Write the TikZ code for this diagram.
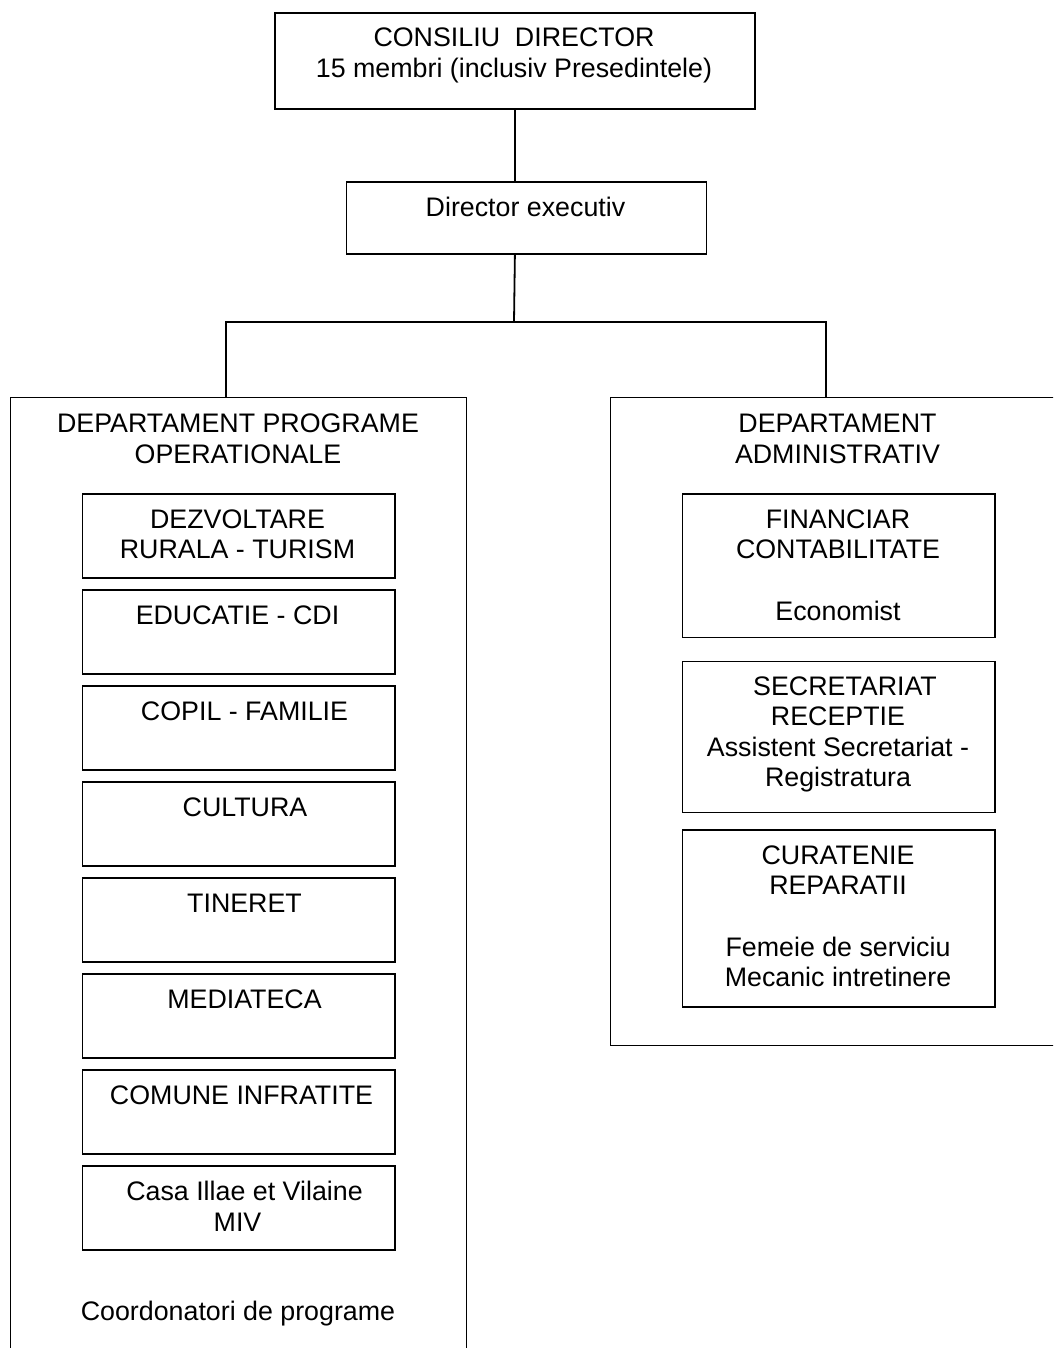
\documentclass[tikz,border=0pt]{standalone}
\usepackage{fontspec}
\setmainfont{Liberation Sans}
\begin{document}
\begin{tikzpicture}[x=1pt,y=-1pt,
  box/.style={draw,line width=1.8pt,inner sep=0pt,anchor=north west},
  txt/.style={anchor=base,inner sep=0pt,align=center,font=\fontsize{26.8}{30.6}\selectfont},
  conn/.style={line width=1.8pt}]
\useasboundingbox (0,0) rectangle (1053,1348);
\clip (0,0) rectangle (1053,1348);
% (text nodes: anchor base = baseline of the last line)
% top boxes
\node[box,minimum width=480pt,minimum height=96pt] (cd) at (274,12.3) {};
\node[txt] (cdt) at (514,77.3) {CONSILIU\ \ DIRECTOR\\15 membri (inclusiv Presedintele)};
\node[box,minimum width=360pt,minimum height=72pt] (de) at (345.5,181) {};
\node[txt] (det) at (525.5,217) {Director executiv};
% departments
\node[box,minimum width=456pt,minimum height=1000pt] (ld) at (9.5,396.5) {};
\node[txt] (ldt) at (238,463) {DEPARTAMENT PROGRAME\\OPERATIONALE};
\node[box,minimum width=480pt,minimum height=648pt] (rd) at (609.5,396.5) {};
\node[txt] (rdt) at (837.5,463) {DEPARTAMENT\\ADMINISTRATIV};
% connectors
\coordinate (j) at (514,322);
\coordinate (lj) at (226,396.5);
\coordinate (rj) at (826,396.5);
\draw[conn] (cd.south) -- (de.north -| cd.south);
\draw[conn] (de.south -| cd.south) -- (j);
\draw[conn] (lj) |- (j) -| (rj);
% left inner boxes
\node[box,minimum width=312.5pt,minimum height=84pt] (l1) at (81.5,493) {};
\node[box,minimum width=312.5pt,minimum height=84pt] (l2) at (81.5,589) {};
\node[box,minimum width=312.5pt,minimum height=84pt] (l3) at (81.5,685) {};
\node[box,minimum width=312.5pt,minimum height=84pt] (l4) at (81.5,781) {};
\node[box,minimum width=312.5pt,minimum height=84pt] (l5) at (81.5,877) {};
\node[box,minimum width=312.5pt,minimum height=84pt] (l6) at (81.5,973) {};
\node[box,minimum width=312.5pt,minimum height=84pt] (l7) at (81.5,1069) {};
\node[box,minimum width=312.5pt,minimum height=84pt] (l8) at (81.5,1165) {};
\node[txt] (l1t) at (237.5,558.8) {DEZVOLTARE\\RURALA - TURISM};
\node[txt] (l2t) at (237.5,624.5) {EDUCATIE - CDI};
\node[txt] (l3t) at (244.5,720.5) {COPIL - FAMILIE};
\node[txt] (l4t) at (245,816.5) {CULTURA};
\node[txt] (l5t) at (244.5,912.5) {TINERET};
\node[txt] (l6t) at (244.5,1008.5) {MEDIATECA};
\node[txt] (l7t) at (241.5,1104.5) {COMUNE INFRATITE};
\node[txt] (l8t) at (237.5,1231) {\hspace*{14pt}Casa Illae et Vilaine\\MIV};
\node[txt] (coord) at (238,1320.7) {Coordonatori de programe};
% right inner boxes
\node[box,minimum width=312.5pt,minimum height=143.5pt] (r1) at (681.5,493) {};
\node[box,minimum width=312.5pt,minimum height=151pt] (r2) at (681.5,660.5) {};
\node[box,minimum width=312.5pt,minimum height=177pt] (r3) at (681.5,829) {};
\node[txt] (r1t) at (838,620) {FINANCIAR\\CONTABILITATE\\[30.6pt]Economist};
\node[txt] (r2t) at (838,786.8) {\hspace*{14pt}SECRETARIAT\\RECEPTIE\\Assistent Secretariat -\\Registratura};
\node[txt] (r3t) at (838,986.7) {CURATENIE\\REPARATII\\[30.6pt]Femeie de serviciu\\Mecanic intretinere};
\end{tikzpicture}
\end{document}
